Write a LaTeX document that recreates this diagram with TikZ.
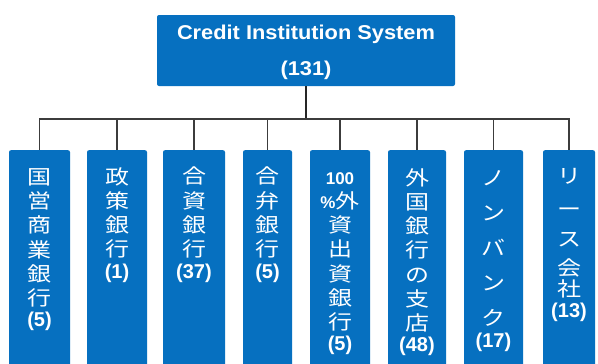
\documentclass[tikz,border=0pt]{standalone}
\usepackage{fontspec}
\setmainfont{Liberation Sans}
\newfontfamily\cjk[FakeStretch=1.2]{Noto Sans CJK JP}
\newfontfamily\numfont{Liberation Sans}
\newfontfamily\titlefont[FakeStretch=1.09]{Liberation Sans}
\newcommand\numtxt[1]{{\numfont\bfseries\fontsize{20}{24}\selectfont #1}}
\newcommand\pctxt[1]{{\numfont\bfseries\fontsize{17}{24}\selectfont #1}}
\definecolor{boxblue}{RGB}{6,112,192}
\definecolor{linegray}{RGB}{60,60,60}
\begin{document}
\begin{tikzpicture}[x=1pt,y=-1pt,
  topbox/.style={fill=boxblue, rounded corners=2pt, inner sep=0pt,
    minimum width=298pt, minimum height=71pt},
  ttl/.style={text=white, align=center, inner sep=0pt,
    font=\titlefont\bfseries\fontsize{20}{36}\selectfont},
  leaf/.style={fill=boxblue, rounded corners=2pt, inner sep=0pt, anchor=north,
    minimum height=240pt},
  lbl/.style={text=white, align=center, anchor=north, inner sep=0pt,
    font=\cjk\fontsize{20}{24.3}\selectfont},
  conn/.style={draw=linegray, line width=1.1pt},
  trunk/.style={draw=black!85, line width=1.6pt}]
\useasboundingbox (0,0) rectangle (598,364);
\clip (0,0) rectangle (598,364);
\fill[white] (0,0) rectangle (598,364);

\node[topbox] (top) at (306,50.5) {};
\node[ttl] (toptext) at (306,52) {Credit Institution System\\(131)};

\node[leaf, minimum width=61pt] (b1) at (39.5,150) {};
\node[leaf, minimum width=60pt] (b2) at (117,150) {};
\node[leaf, minimum width=62pt] (b3) at (194,150) {};
\node[leaf, minimum width=49pt] (b4) at (267.5,150) {};
\node[leaf, minimum width=60pt] (b5) at (340,150) {};
\node[leaf, minimum width=58pt] (b6) at (417,150) {};
\node[leaf, minimum width=59pt] (b7) at (493.5,150) {};
\node[leaf, minimum width=52pt] (b8) at (569,150) {};

\coordinate (bus) at (306,119);
\draw[trunk] (top.south) -- (bus);
\foreach \i in {1,...,8} { \draw[conn] (bus) -| (b\i.north); }

\node[lbl] (t1) at (b1.north |- 0,168) {国\\営\\商\\業\\銀\\行\\[-3pt]\numtxt{(5)}};
\node[lbl] (t2) at (b2.north |- 0,167) {政\\策\\銀\\行\\[-2.5pt]\numtxt{(1)}};
\node[lbl] (t3) at (b3.north |- 0,167) {合\\資\\銀\\行\\[-2.5pt]\numtxt{(37)}};
\node[lbl] (t4) at (b4.north |- 0,167) {合\\弁\\銀\\行\\[-2.5pt]\numtxt{(5)}};
\node[lbl] (t5) at (b5.north |- 0,172) {\pctxt{100}\\\pctxt{\%}外\\資\\出\\資\\銀\\行\\[-4pt]\numtxt{(5)}};
\node[lbl] (t6) at (b6.north |- 0,168) {外\\国\\銀\\行\\の\\支\\店\\[-4pt]\numtxt{(48)}};
\node[lbl] (t7) at (b7.north |- 0,170) {ノ\\[10.9pt]ン\\[10.9pt]バ\\[10.9pt]ン\\[10.9pt]ク\\[-3pt]\numtxt{(17)}};
\node[lbl] (t8) at (b8.north |- 0,168) {リ\\[8.7pt]ー\\[5.7pt]ス\\[4.7pt]会\\[-3.3pt]社\\[-3pt]\numtxt{(13)}};
\end{tikzpicture}
\end{document}
